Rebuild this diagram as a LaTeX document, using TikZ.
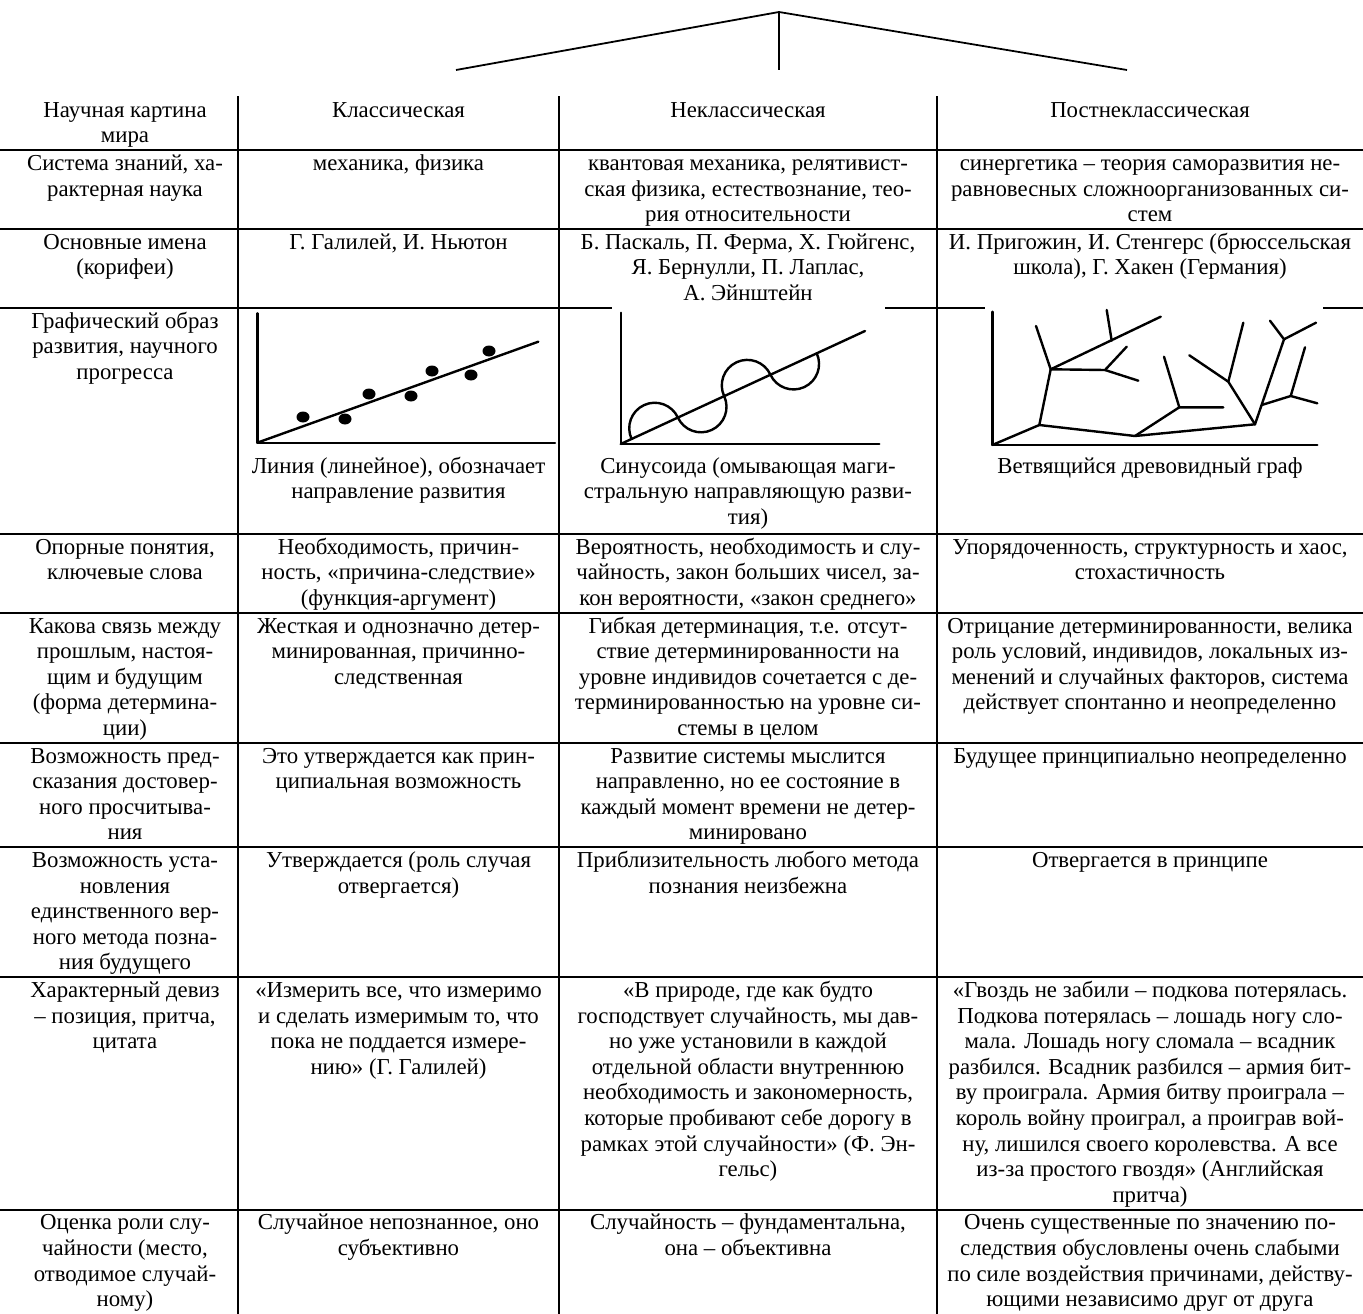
\documentclass[tikz,border=0pt]{standalone}
\usepackage{fontspec}
\setmainfont{Liberation Serif}
\newcommand\cst{\rule{0pt}{20pt}}
\newcommand\cellfont{\fontsize{22.8}{25.6}\selectfont}
\tikzset{
  rule/.style={line width=1.8pt},
  gline/.style={line width=2.4pt, line cap=round, line join=round},
  cell/.style={anchor=north, align=center, inner sep=0pt, font=\cellfont},
  dot/.style={fill=black, draw=none, ellipse, minimum width=13pt, minimum height=11pt, inner sep=0pt},
}
\usetikzlibrary{shapes.geometric}
\begin{document}
\begin{tikzpicture}[x=1pt,y=-1pt]
\useasboundingbox (0,0) rectangle (1363,1314);
% top fork
\coordinate (apex) at (779,12);
\coordinate (tl) at (456,70);
\coordinate (tr) at (1127,70);
\coordinate (tm) at (779,70);
\draw[rule] (tl) -- (apex) -- (tr);
\draw[rule] (apex) -- (tm);
% vertical rules
\draw[rule] (238,96) -- (238,1314);
\draw[rule] (559,96) -- (559,1314);
\draw[rule] (937,96) -- (937,1314);
% horizontal rules
\foreach \y in {150.2,229,534,612.8,742.8,847.2,977.2,1209.6}
  \draw[rule] (0,\y) -- (1363,\y);
\draw[rule] (0,307.8) -- (612,307.8);
\draw[rule] (885,307.8) -- (985,307.8);
\draw[rule] (1323,307.8) -- (1363,307.8);

% ---- row 1
\node[cell] (r1c1) at (125,97) {\cst Научная картина\\мира};
\node[cell] (r1c2) at (398.5,97) {\cst Классическая};
\node[cell] (r1c3) at (748,97) {\cst Неклассическая};
\node[cell] (r1c4) at (1150,97) {\cst Постнеклассическая};
% ---- row 2
\node[cell] (r2c1) at (125,150.2) {\cst Система знаний, ха-\\рактерная наука};
\node[cell] (r2c2) at (398.5,150.2) {\cst механика, физика};
\node[cell] (r2c3) at (748,150.2) {\cst квантовая механика, релятивист-\\ская физика, естествознание, тео-\\рия относительности};
\node[cell] (r2c4) at (1150,150.2) {\cst синергетика – теория саморазвития не-\\равновесных сложноорганизованных си-\\стем};
% ---- row 3
\node[cell] (r3c1) at (125,229) {\cst Основные имена\\(корифеи)};
\node[cell] (r3c2) at (398.5,229) {\cst Г. Галилей, И. Ньютон};
\node[cell] (r3c3) at (748,229) {\cst Б. Паскаль, П. Ферма, Х. Гюйгенс,\\Я. Бернулли, П. Лаплас,\\А. Эйнштейн};
\node[cell] (r3c4) at (1150,229) {\cst И. Пригожин, И. Стенгерс (брюссельская\\школа), Г. Хакен (Германия)};
% ---- row 4
\node[cell] (r4c1) at (125,307.8) {\cst Графический образ\\развития, научного\\прогресса};
\node[cell] (r4c2) at (398.5,453) {\cst Линия (линейное), обозначает\\направление развития};
\node[cell] (r4c3) at (748,453) {\cst Синусоида (омывающая маги-\\стральную направляющую разви-\\тия)};
\node[cell] (r4c4) at (1150,453) {\cst Ветвящийся древовидный граф};
% graph 1: line
\coordinate (g1t) at (257.3,313.3);
\coordinate (g1o) at (257.3,442.7);
\coordinate (g1r) at (555,442.7);
\coordinate (g1e) at (538.3,341.7);
\draw[gline] (g1t) -- (g1o) -- (g1r);
\draw[gline] (g1o) -- (g1e);
\foreach \px/\py [count=\i] in {303/417,345/419,369/394,411/396,432/371,471/375,489/351}
  \node[dot] (d\i) at (\px,\py) {};
% graph 2: sinusoid
\coordinate (g2t) at (620.7,312.7);
\coordinate (g2o) at (620.7,444);
\coordinate (g2r) at (879.3,444);
\coordinate (g2e) at (865,331);
\draw[gline] (g2t) -- (g2o) -- (g2r);
\draw[gline] (g2o) -- (g2e);
\begin{scope}[shift={(g2o)}, rotate=24.85]
  \draw[gline] (12,0) arc[start angle=180, end angle=360, radius=25.5]
                      arc[start angle=180, end angle=0, radius=25.5]
                      arc[start angle=180, end angle=360, radius=25.5]
                      arc[start angle=180, end angle=0, radius=25.5];
\end{scope}
% graph 3: tree
\coordinate (g3t) at (992.3,311.7);
\coordinate (O) at (992.3,445);
\coordinate (g3r) at (1317.3,445);
\draw[gline] (g3t) -- (O) -- (g3r);
\coordinate (A) at (1039.3,425);
\coordinate (B) at (1135,436);
\coordinate (C) at (1255,424.3);
\coordinate (D) at (1050.7,369.3);
\coordinate (D1) at (1036,326);
\coordinate (E) at (1105,370);
\coordinate (E1) at (1126.7,346.7);
\coordinate (E2) at (1138.3,380.7);
\coordinate (F) at (1111.7,340.7);
\coordinate (F1) at (1160.7,316.7);
\coordinate (F2) at (1106.7,310);
\coordinate (G) at (1179.3,407.3);
\coordinate (G1) at (1223.3,407.3);
\coordinate (G2) at (1164,356.7);
\coordinate (H) at (1228.3,381.7);
\coordinate (H1) at (1189.3,355.3);
\coordinate (H2) at (1243.3,322.7);
\coordinate (K) at (1284,339.3);
\coordinate (I) at (1261.7,405);
\coordinate (J) at (1290.7,396);
\coordinate (J1) at (1317.3,403.3);
\coordinate (J2) at (1305,347.3);
\coordinate (K1) at (1270,320.7);
\coordinate (K2) at (1316,322.7);
\draw[gline] (O) -- (A) -- (B) -- (C);
\draw[gline] (A) -- (D) -- (D1);
\draw[gline] (D) -- (E) -- (E1);
\draw[gline] (E) -- (E2);
\draw[gline] (D) -- (F1);
\draw[gline] (F) -- (F2);
\draw[gline] (B) -- (G) -- (G1);
\draw[gline] (G) -- (G2);
\draw[gline] (C) -- (H) -- (H1);
\draw[gline] (H) -- (H2);
\draw[gline] (C) -- (K) -- (K1);
\draw[gline] (K) -- (K2);
\draw[gline] (I) -- (J) -- (J1);
\draw[gline] (J) -- (J2);
% ---- row 5
\node[cell] (r5c1) at (125,534) {\cst Опорные понятия,\\ключевые слова};
\node[cell] (r5c2) at (398.5,534) {\cst Необходимость, причин-\\ность, «причина-следствие»\\(функция-аргумент)};
\node[cell] (r5c3) at (748,534) {\cst Вероятность, необходимость и слу-\\чайность, закон больших чисел, за-\\кон вероятности, «закон среднего»};
\node[cell] (r5c4) at (1150,534) {\cst Упорядоченность, структурность и хаос,\\стохастичность};
% ---- row 6
\node[cell] (r6c1) at (125,612.8) {\cst Какова связь между\\прошлым, настоя-\\щим и будущим\\(форма детермина-\\ции)};
\node[cell] (r6c2) at (398.5,612.8) {\cst Жесткая и однозначно детер-\\минированная, причинно-\\следственная};
\node[cell] (r6c3) at (748,612.8) {\cst Гибкая детерминация, т.е. отсут-\\ствие детерминированности на\\уровне индивидов сочетается с де-\\терминированностью на уровне си-\\стемы в целом};
\node[cell] (r6c4) at (1150,612.8) {\cst Отрицание детерминированности, велика\\роль условий, индивидов, локальных из-\\менений и случайных факторов, система\\действует спонтанно и неопределенно};
% ---- row 7
\node[cell] (r7c1) at (125,742.8) {\cst Возможность пред-\\сказания достовер-\\ного просчитыва-\\ния};
\node[cell] (r7c2) at (398.5,742.8) {\cst Это утверждается как прин-\\ципиальная возможность};
\node[cell] (r7c3) at (748,742.8) {\cst Развитие системы мыслится\\направленно, но ее состояние в\\каждый момент времени не детер-\\минировано};
\node[cell] (r7c4) at (1150,742.8) {\cst Будущее принципиально неопределенно};
% ---- row 8
\node[cell] (r8c1) at (125,847.2) {\cst Возможность уста-\\новления\\единственного вер-\\ного метода позна-\\ния будущего};
\node[cell] (r8c2) at (398.5,847.2) {\cst Утверждается (роль случая\\отвергается)};
\node[cell] (r8c3) at (748,847.2) {\cst Приблизительность любого метода\\познания неизбежна};
\node[cell] (r8c4) at (1150,847.2) {\cst Отвергается в принципе};
% ---- row 9
\node[cell] (r9c1) at (125,977.2) {\cst Характерный девиз\\– позиция, притча,\\цитата};
\node[cell] (r9c2) at (398.5,977.2) {\cst «Измерить все, что измеримо\\и сделать измеримым то, что\\пока не поддается измере-\\нию» (Г. Галилей)};
\node[cell] (r9c3) at (748,977.2) {\cst «В природе, где как будто\\господствует случайность, мы дав-\\но уже установили в каждой\\отдельной области внутреннюю\\необходимость и закономерность,\\которые пробивают себе дорогу в\\рамках этой случайности» (Ф. Эн-\\гельс)};
\node[cell] (r9c4) at (1150,977.2) {\cst «Гвоздь не забили – подкова потерялась.\\Подкова потерялась – лошадь ногу сло-\\мала. Лошадь ногу сломала – всадник\\разбился. Всадник разбился – армия бит-\\ву проиграла. Армия битву проиграла –\\король войну проиграл, а проиграв вой-\\ну, лишился своего королевства. А все\\из-за простого гвоздя» (Английская\\притча)};
% ---- row 10
\node[cell] (r10c1) at (125,1209.6) {\cst Оценка роли слу-\\чайности (место,\\отводимое случай-\\ному)};
\node[cell] (r10c2) at (398.5,1209.6) {\cst Случайное непознанное, оно\\субъективно};
\node[cell] (r10c3) at (748,1209.6) {\cst Случайность – фундаментальна,\\она – объективна};
\node[cell] (r10c4) at (1150,1209.6) {\cst Очень существенные по значению по-\\следствия обусловлены очень слабыми\\по силе воздействия причинами, действу-\\ющими независимо друг от друга};
\end{tikzpicture}
\end{document}
